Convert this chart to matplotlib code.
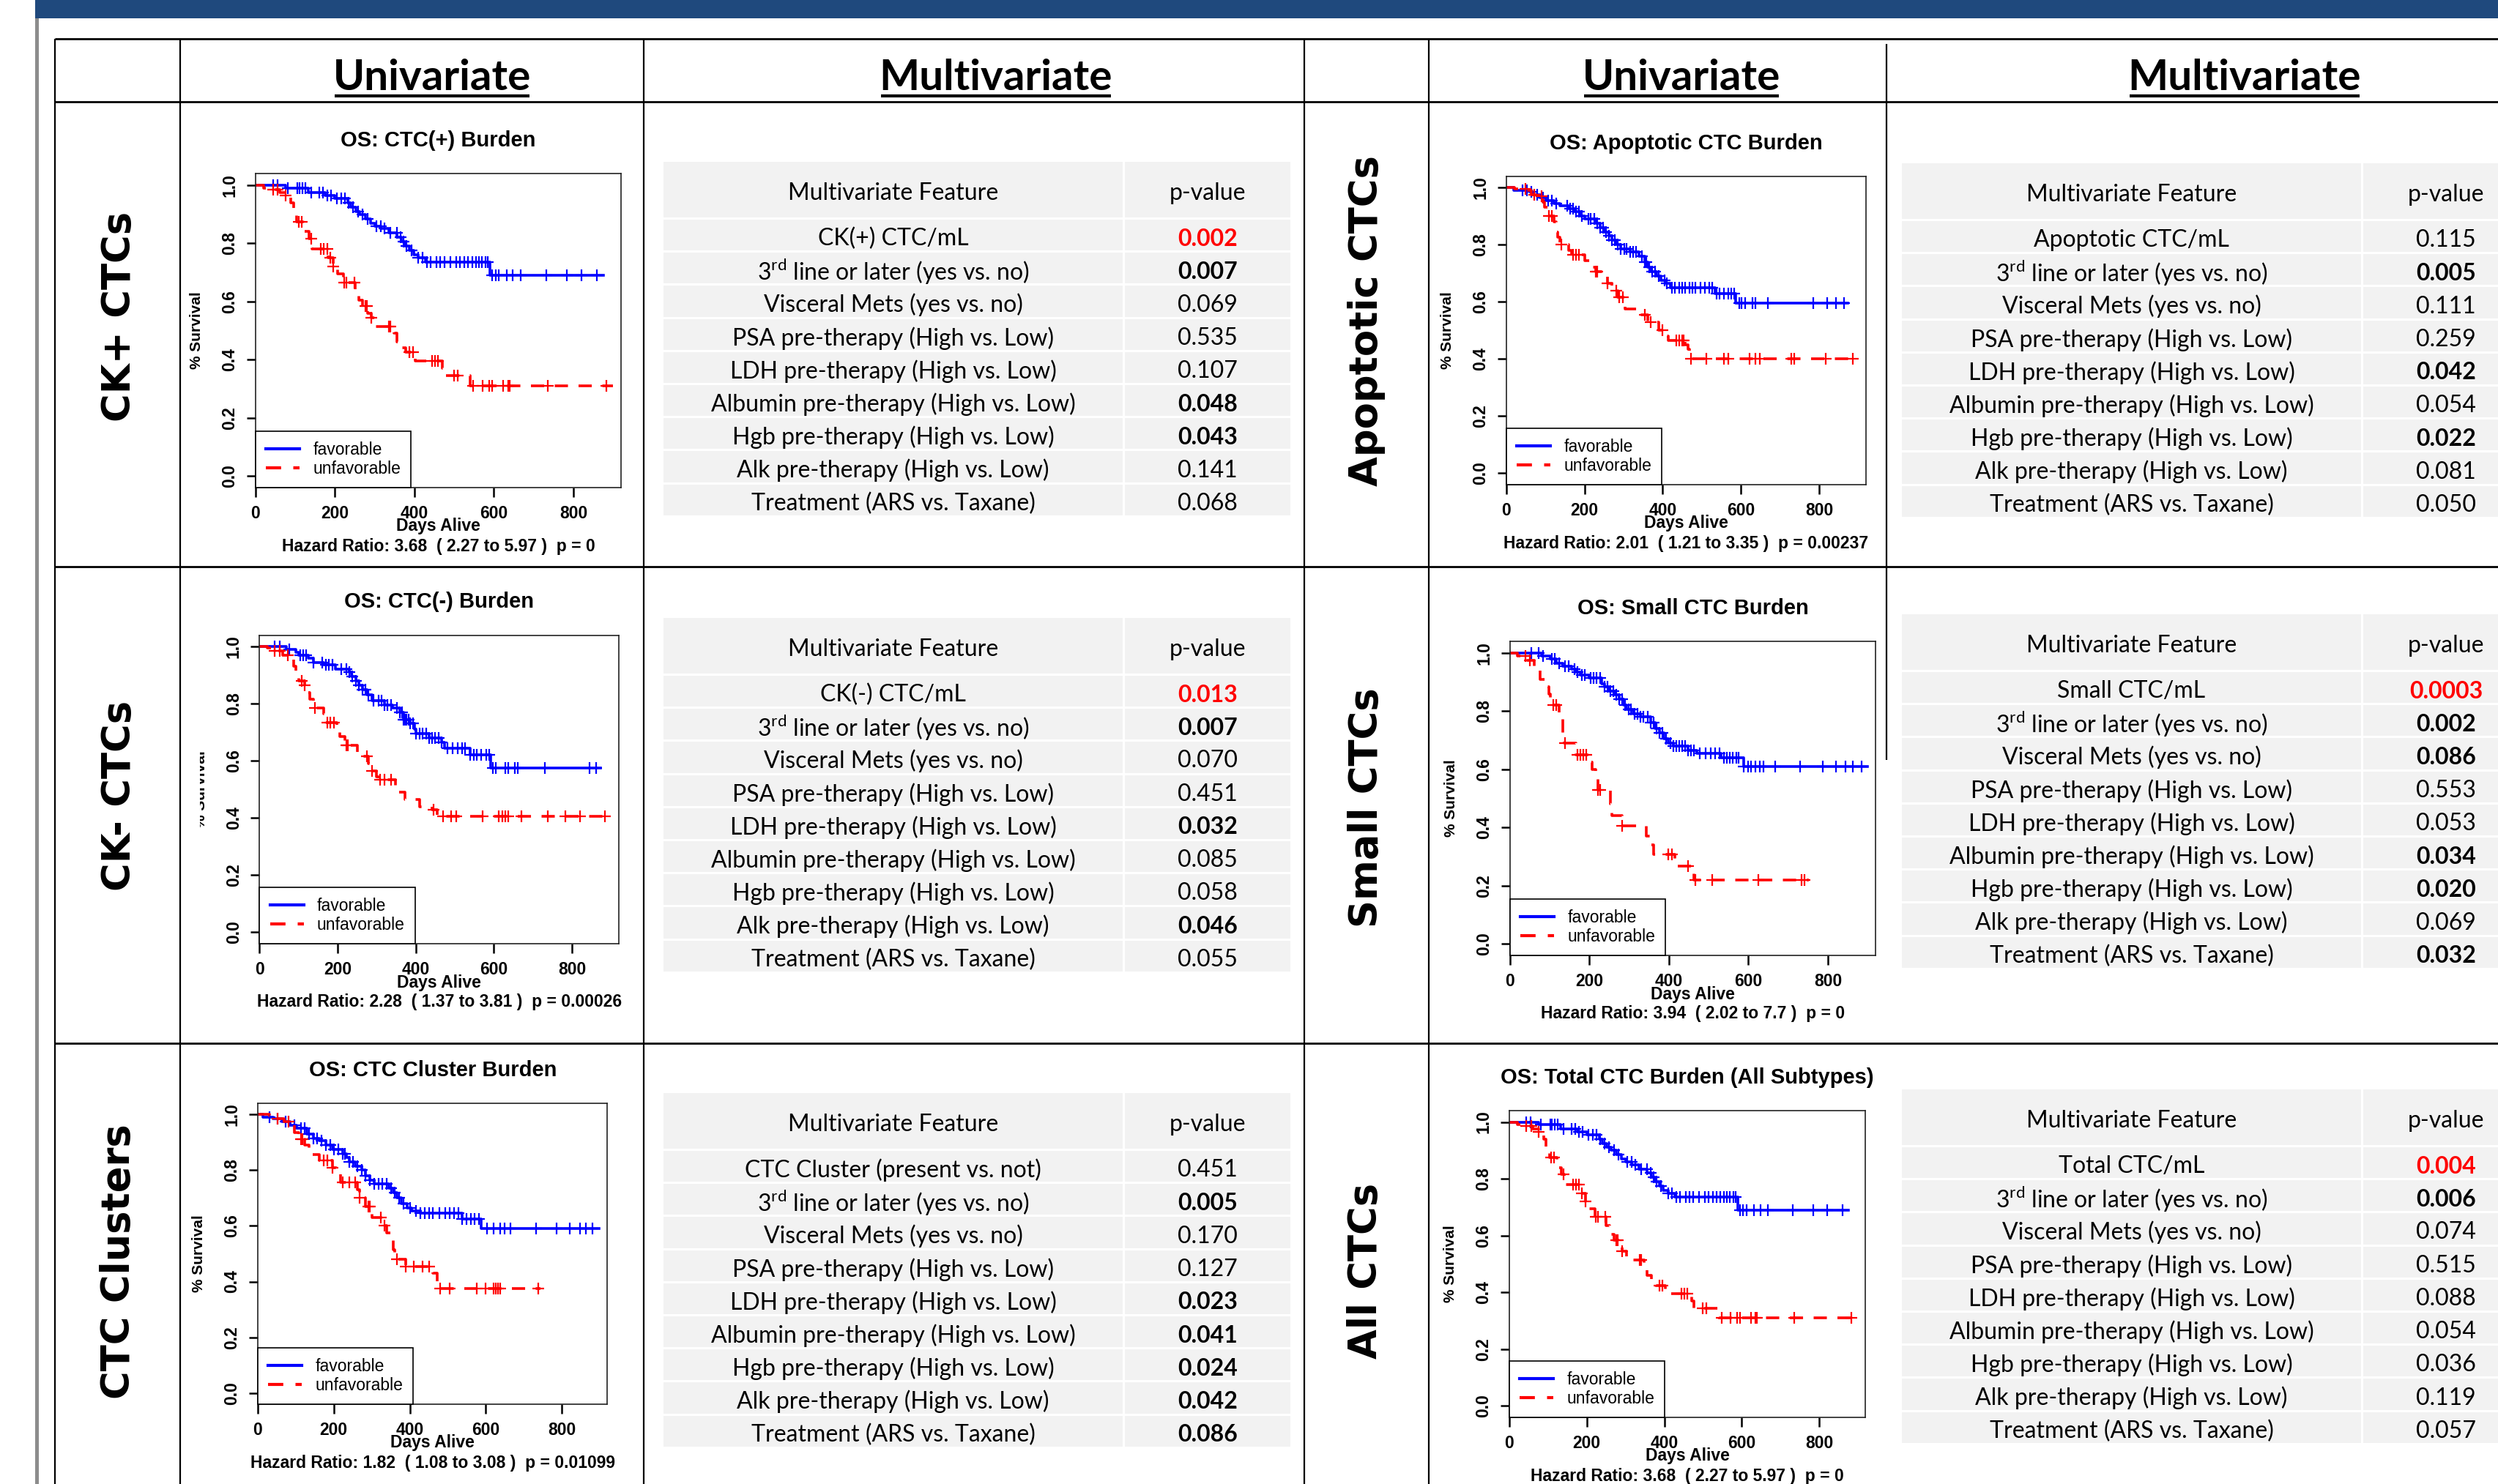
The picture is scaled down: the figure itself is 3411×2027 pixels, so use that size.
import numpy as np
import matplotlib
matplotlib.use('Agg')
import matplotlib.pyplot as plt
from matplotlib.patches import Rectangle
from matplotlib.lines import Line2D
from matplotlib.transforms import Bbox

plt.rcParams['font.family'] = 'Liberation Sans'
plt.rcParams['mathtext.fontset'] = 'custom'
plt.rcParams['mathtext.rm'] = 'Lato'
plt.rcParams['mathtext.bf'] = 'Lato:bold'

W, H = 3412, 2027

# ---------------- survival data (days, survival after step, last day, censor days) ----------------
# CK+ CTC burden (the total CTC panel shows the same curves)
ckpos_fav_t = [0, 76, 132, 175, 200, 232, 240, 252, 262, 276, 290, 300, 316, 335, 356, 366, 376, 388, 398, 410, 428, 590]
ckpos_fav_s = [1.0, 0.99, 0.975, 0.965, 0.955, 0.94, 0.925, 0.91, 0.90, 0.885, 0.87, 0.86, 0.85, 0.835, 0.82, 0.805,
               0.79, 0.775, 0.76, 0.75, 0.735, 0.69]
ckpos_fav_end = 876
ckpos_fav_cens = [44, 55, 82, 105, 110, 118, 125, 140, 160, 170, 180, 190, 205, 215, 225, 235, 245, 258, 270, 282, 305,
                  315, 325, 340, 355, 365, 372, 380, 392, 410, 420, 432, 440, 455, 465, 475, 490, 505, 515, 525, 535,
                  545, 555, 562, 570, 578, 585, 596, 604, 612, 632, 648, 668, 732, 784, 820, 860]
ckpos_unf_t = [0, 20, 44, 60, 76, 88, 95, 104, 122, 134, 142, 182, 196, 206, 222, 250, 260, 270, 282, 292, 302, 348,
               356, 366, 378, 402, 470, 476, 540]
ckpos_unf_s = [1.0, 0.99, 0.985, 0.975, 0.965, 0.94, 0.91, 0.875, 0.84, 0.815, 0.78, 0.75, 0.72, 0.695, 0.665, 0.635,
               0.605, 0.585, 0.56, 0.545, 0.515, 0.49, 0.46, 0.44, 0.425, 0.395, 0.37, 0.345, 0.31]
ckpos_unf_end = 900
ckpos_unf_cens = [44, 56, 76, 108, 116, 140, 164, 172, 180, 188, 196, 224, 228, 248, 276, 280, 292, 336, 340, 388, 396,
                  444, 452, 460, 500, 508, 548, 572, 588, 596, 624, 636, 640, 736, 884]

# CK- CTC burden
ckneg_fav_t = [0, 68, 92, 100, 125, 137, 165, 194, 230, 236, 247, 255, 263, 275, 287, 320, 340, 360, 369, 385, 397,
               401, 434, 466, 474, 540, 592]
ckneg_fav_s = [1.0, 0.99, 0.98, 0.97, 0.96, 0.945, 0.935, 0.92, 0.91, 0.895, 0.88, 0.865, 0.85, 0.83, 0.81, 0.795,
               0.785, 0.77, 0.745, 0.73, 0.71, 0.695, 0.68, 0.665, 0.645, 0.62, 0.575]
ckneg_fav_end = 873
ckneg_fav_cens = [39, 51, 76, 104, 112, 120, 137, 161, 169, 177, 186, 210, 222, 230, 238, 247, 255, 263, 271, 279, 291,
                  304, 312, 320, 328, 336, 352, 360, 365, 369, 373, 377, 381, 385, 393, 401, 409, 417, 426, 434, 442,
                  450, 458, 466, 482, 495, 507, 519, 527, 540, 548, 556, 568, 580, 588, 597, 605, 629, 637, 653, 662,
                  731, 845, 861]
ckneg_unf_t = [0, 19, 39, 59, 76, 88, 92, 100, 116, 125, 129, 137, 165, 169, 198, 206, 218, 251, 259, 279, 287, 300,
               304, 348, 352, 373, 409, 442, 454]
ckneg_unf_s = [1.0, 0.995, 0.985, 0.97, 0.955, 0.93, 0.91, 0.88, 0.865, 0.84, 0.815, 0.785, 0.765, 0.735, 0.71, 0.685,
               0.655, 0.63, 0.615, 0.59, 0.565, 0.545, 0.535, 0.51, 0.49, 0.465, 0.44, 0.43, 0.405]
ckneg_unf_end = 898
ckneg_unf_cens = [39, 51, 72, 108, 116, 141, 173, 181, 190, 222, 226, 275, 287, 308, 320, 336, 446, 470, 491, 503, 572,
                  613, 621, 629, 637, 670, 739, 784, 820, 885]

# CTC cluster burden
clus_fav_t = [0, 13, 41, 63, 85, 102, 129, 146, 162, 179, 196, 223, 234, 240, 256, 273, 284, 295, 306, 345, 356, 367,
              378, 394, 405, 428, 538, 588]
clus_fav_s = [1.0, 0.99, 0.985, 0.975, 0.96, 0.95, 0.93, 0.915, 0.905, 0.89, 0.875, 0.86, 0.845, 0.83, 0.815, 0.80,
              0.78, 0.765, 0.75, 0.735, 0.72, 0.70, 0.68, 0.665, 0.655, 0.645, 0.625, 0.59]
clus_fav_end = 897
clus_fav_cens = [30, 52, 74, 96, 113, 124, 135, 146, 157, 168, 179, 190, 201, 212, 223, 229, 240, 251, 262, 273, 284,
                 295, 306, 317, 328, 339, 350, 361, 372, 383, 400, 417, 428, 439, 450, 461, 477, 494, 505, 516, 527,
                 538, 549, 560, 571, 582, 604, 621, 638, 649, 665, 732, 787, 820, 848, 864, 881]
clus_unf_t = [0, 30, 52, 69, 85, 96, 107, 124, 135, 162, 196, 207, 218, 262, 267, 284, 301, 328, 339, 350, 356, 361,
              389, 461, 472]
clus_unf_s = [1.0, 0.995, 0.985, 0.975, 0.96, 0.935, 0.91, 0.89, 0.855, 0.835, 0.81, 0.785, 0.755, 0.73, 0.70, 0.67,
              0.63, 0.60, 0.575, 0.55, 0.515, 0.48, 0.455, 0.43, 0.375]
clus_unf_end = 743
clus_unf_cens = [52, 80, 113, 118, 173, 184, 196, 223, 240, 256, 267, 290, 295, 323, 334, 367, 389, 411, 433, 450, 480,
                 505, 577, 599, 621, 627, 632, 638, 737]

# apoptotic CTC burden
apop_fav_t = [0, 18, 60, 67, 86, 102, 121, 136, 159, 174, 190, 201, 228, 239, 251, 262, 270, 281, 293, 316, 339, 354,
              362, 369, 385, 396, 408, 419, 534, 587]
apop_fav_s = [1.0, 0.99, 0.985, 0.975, 0.965, 0.955, 0.945, 0.935, 0.925, 0.915, 0.90, 0.89, 0.875, 0.86, 0.845, 0.83,
              0.815, 0.80, 0.785, 0.775, 0.76, 0.74, 0.72, 0.705, 0.69, 0.675, 0.665, 0.65, 0.63, 0.595]
apop_fav_end = 874
apop_fav_cens = [41, 52, 63, 79, 94, 106, 117, 128, 155, 163, 171, 178, 186, 193, 209, 216, 224, 232, 239, 247, 255,
                 262, 270, 278, 285, 293, 301, 308, 316, 324, 331, 346, 354, 358, 366, 373, 381, 389, 404, 411, 423,
                 431, 442, 450, 457, 469, 476, 484, 496, 507, 519, 526, 538, 545, 557, 568, 576, 583, 595, 602, 610,
                 629, 637, 668, 786, 821, 844, 863]
apop_unf_t = [0, 21, 52, 63, 75, 94, 98, 109, 121, 128, 132, 136, 159, 167, 201, 216, 228, 247, 259, 270, 285, 304,
              339, 362, 389, 411, 415, 457, 465, 469]
apop_unf_s = [1.0, 0.995, 0.99, 0.975, 0.97, 0.95, 0.93, 0.90, 0.88, 0.845, 0.825, 0.80, 0.78, 0.765, 0.745, 0.72,
              0.705, 0.69, 0.665, 0.64, 0.615, 0.575, 0.555, 0.53, 0.50, 0.48, 0.465, 0.45, 0.435, 0.40]
apop_unf_end = 897
apop_unf_cens = [48, 71, 90, 109, 117, 140, 171, 178, 186, 228, 232, 259, 281, 289, 297, 354, 369, 400, 434, 442, 450,
                 454, 473, 511, 557, 568, 622, 637, 649, 729, 737, 817, 886]

# small CTC burden
small_fav_t = [0, 79, 102, 117, 132, 154, 166, 177, 200, 230, 237, 249, 264, 275, 286, 294, 309, 328, 354, 365, 377,
               388, 399, 411, 448, 471, 531, 588]
small_fav_s = [1.0, 0.99, 0.98, 0.965, 0.955, 0.945, 0.935, 0.925, 0.915, 0.895, 0.885, 0.87, 0.855, 0.84, 0.82, 0.805,
               0.79, 0.78, 0.76, 0.74, 0.725, 0.705, 0.69, 0.68, 0.665, 0.655, 0.64, 0.61]
small_fav_end = 900
small_fav_cens = [53, 72, 83, 105, 113, 124, 139, 147, 162, 169, 181, 188, 203, 211, 218, 226, 237, 245, 252, 260, 267,
                  275, 282, 290, 298, 305, 313, 320, 328, 335, 347, 354, 362, 369, 377, 384, 392, 403, 411, 418, 426,
                  433, 441, 448, 456, 463, 478, 493, 505, 516, 527, 539, 546, 554, 561, 569, 576, 588, 599, 606, 618,
                  629, 637, 667, 731, 787, 821, 844, 862, 885]
small_unf_t = [0, 19, 41, 60, 75, 94, 98, 102, 124, 132, 136, 166, 200, 206, 215, 222, 252, 256, 282, 343, 352, 362,
               414, 463]
small_unf_s = [1.0, 0.99, 0.975, 0.94, 0.91, 0.885, 0.86, 0.82, 0.78, 0.725, 0.69, 0.65, 0.625, 0.60, 0.57, 0.53,
               0.48, 0.44, 0.405, 0.37, 0.34, 0.307, 0.266, 0.22]
small_unf_end = 753
small_unf_cens = [38, 49, 109, 117, 139, 169, 177, 185, 192, 222, 226, 282, 399, 407, 448, 467, 509, 625, 734, 742]

km_titles = ['OS: CTC(+) Burden', 'OS: CTC(-) Burden', 'OS: CTC Cluster Burden',
             'OS: Apoptotic CTC Burden', 'OS: Small CTC Burden', 'OS: Total CTC Burden (All Subtypes)']
km_hazard = ['Hazard Ratio: 3.68  ( 2.27 to 5.97 )  p = 0',
             'Hazard Ratio: 2.28  ( 1.37 to 3.81 )  p = 0.00026',
             'Hazard Ratio: 1.82  ( 1.08 to 3.08 )  p = 0.01099',
             'Hazard Ratio: 2.01  ( 1.21 to 3.35 )  p = 0.00237',
             'Hazard Ratio: 3.94  ( 2.02 to 7.7 )  p = 0',
             'Hazard Ratio: 3.68  ( 2.27 to 5.97 )  p = 0']

# ---------------- multivariate tables ----------------
features_common = ['3$^{\\mathrm{rd}}$ line or later (yes vs. no)', 'Visceral Mets (yes vs. no)',
                   'PSA pre-therapy (High vs. Low)', 'LDH pre-therapy (High vs. Low)',
                   'Albumin pre-therapy (High vs. Low)', 'Hgb pre-therapy (High vs. Low)',
                   'Alk pre-therapy (High vs. Low)', 'Treatment (ARS vs. Taxane)']
first_features = ['CK(+) CTC/mL', 'CK(-) CTC/mL', 'CTC Cluster (present vs. not)',
                  'Apoptotic CTC/mL', 'Small CTC/mL', 'Total CTC/mL']
pvals = [
    ['0.002', '0.007', '0.069', '0.535', '0.107', '0.048', '0.043', '0.141', '0.068'],
    ['0.013', '0.007', '0.070', '0.451', '0.032', '0.085', '0.058', '0.046', '0.055'],
    ['0.451', '0.005', '0.170', '0.127', '0.023', '0.041', '0.024', '0.042', '0.086'],
    ['0.115', '0.005', '0.111', '0.259', '0.042', '0.054', '0.022', '0.081', '0.050'],
    ['0.0003', '0.002', '0.086', '0.553', '0.053', '0.034', '0.020', '0.069', '0.032'],
    ['0.004', '0.006', '0.074', '0.515', '0.088', '0.054', '0.036', '0.119', '0.057'],
]
# r = red bold, b = bold, n = normal
pstyles = [
    ['r', 'b', 'n', 'n', 'n', 'b', 'b', 'n', 'n'],
    ['r', 'b', 'n', 'n', 'b', 'n', 'n', 'b', 'n'],
    ['n', 'b', 'n', 'n', 'b', 'b', 'b', 'b', 'b'],
    ['n', 'b', 'n', 'n', 'b', 'n', 'b', 'n', 'n'],
    ['r', 'b', 'b', 'n', 'n', 'b', 'b', 'n', 'b'],
    ['r', 'b', 'n', 'n', 'n', 'n', 'n', 'n', 'n'],
]
row_labels = ['CK+ CTCs', 'CK- CTCs', 'CTC Clusters', 'Apoptotic CTCs', 'Small CTCs', 'All CTCs']

# ---------------- layout (pixels) ----------------
km_rects = [(349, 237, 848, 666), (354.5, 867.5, 845, 1289), (352, 1507, 829.5, 1918),
            (2057, 240.5, 2548, 662), (2062, 876, 2561, 1305), (2061, 1517, 2547.5, 1936)]
table_pos = [(906, 221), (906, 844), (906, 1493), (2597, 223), (2597, 839), (2597, 1488)]
label_pos = [(163, 432), (163, 1087), (162, 1723), (1866, 438), (1866, 1103), (1865, 1736)]

fig = plt.figure(figsize=(W / 100, H / 100), dpi=100)
bg = fig.add_axes([0, 0, 1, 1], zorder=0)
bg.set_xlim(0, W)
bg.set_ylim(H, 0)
bg.axis('off')

# banner and left bar
bg.add_patch(Rectangle((48, 0), W - 48, 25, facecolor='#1F497D', edgecolor='none'))
bg.add_patch(Rectangle((48, 25), 5, H - 25, facecolor='#8C8C8C', edgecolor='none'))

# grid lines
for y in [53, 139, 774, 1425]:
    bg.hlines(y, 75, W, color='black', lw=2.0)
for x in [75, 246, 879, 1781, 1951]:
    bg.vlines(x, 53, H, color='black', lw=1.6)
bg.vlines(2576, 60, 1038, color='black', lw=1.6)

# column headers
heads = []
for x, s in [(590, 'Univariate'), (1360, 'Multivariate'), (2296, 'Univariate'), (3065, 'Multivariate')]:
    heads.append(bg.text(x, 123, s, ha='center', va='baseline', fontsize=42, fontweight='bold', family='Lato'))

# row labels
for (x, y), s in zip(label_pos, row_labels):
    bg.text(x, y, s, rotation=90, ha='center', va='center', fontsize=38, fontweight='bold', family='DejaVu Sans')

# tables
col_w = [630, 229]
head_h, row_h, gap = 79, 45.2, 3
for k, (x0, top) in enumerate(table_pos):
    labels = [first_features[k]] + features_common
    y = top
    for i in range(10):
        h = head_h if i == 0 else row_h
        xs = x0
        for j, w in enumerate(col_w):
            bg.add_patch(Rectangle((xs, y), w - gap, h - gap, facecolor='#F2F2F2', edgecolor='none'))
            xs += w
        cy = y + (h - gap) / 2 + 5
        if i == 0:
            bg.text(x0 + (col_w[0] - gap) / 2, cy, 'Multivariate Feature', ha='center', va='center',
                    fontsize=23, family='Lato')
            bg.text(x0 + col_w[0] + (col_w[1] - gap) / 2, cy, 'p-value', ha='center', va='center',
                    fontsize=23, family='Lato')
        else:
            st = pstyles[k][i - 1]
            bg.text(x0 + (col_w[0] - gap) / 2, cy, labels[i - 1], ha='center', va='center',
                    fontsize=23, family='Lato')
            bg.text(x0 + col_w[0] + (col_w[1] - gap) / 2, cy, pvals[k][i - 1], ha='center', va='center',
                    fontsize=23, family='Lato', fontweight='bold' if st != 'n' else 'normal',
                    color='#FF0000' if st == 'r' else 'black')
        y += h

# Kaplan-Meier panels
panels = [
    ((ckpos_fav_t, ckpos_fav_s, ckpos_fav_end, ckpos_fav_cens), (ckpos_unf_t, ckpos_unf_s, ckpos_unf_end, ckpos_unf_cens)),
    ((ckneg_fav_t, ckneg_fav_s, ckneg_fav_end, ckneg_fav_cens), (ckneg_unf_t, ckneg_unf_s, ckneg_unf_end, ckneg_unf_cens)),
    ((clus_fav_t, clus_fav_s, clus_fav_end, clus_fav_cens), (clus_unf_t, clus_unf_s, clus_unf_end, clus_unf_cens)),
    ((apop_fav_t, apop_fav_s, apop_fav_end, apop_fav_cens), (apop_unf_t, apop_unf_s, apop_unf_end, apop_unf_cens)),
    ((small_fav_t, small_fav_s, small_fav_end, small_fav_cens), (small_unf_t, small_unf_s, small_unf_end, small_unf_cens)),
    ((ckpos_fav_t, ckpos_fav_s, ckpos_fav_end, ckpos_fav_cens), (ckpos_unf_t, ckpos_unf_s, ckpos_unf_end, ckpos_unf_cens)),
]
dash = (0, (5, 4))

for k, ((l, t, r, b), curves) in enumerate(zip(km_rects, panels)):
    ax = fig.add_axes([l / W, 1 - b / H, (r - l) / W, (b - t) / H], zorder=2)
    for (times, surv, end, cens), color, ls in zip(curves, ['#0000FF', '#FF0000'], ['-', dash]):
        times = np.asarray(times)
        surv = np.asarray(surv)
        ax.step(np.append(times, end), np.append(surv, surv[-1]), where='post', color=color, lw=2.6, ls=ls)
        cy = surv[np.searchsorted(times, cens, side='right') - 1]
        ax.plot(cens, cy, ls='none', marker='+', ms=12, mew=1.6, color=color)
    ax.set_xlim(0, 920)
    ax.set_ylim(-0.04, 1.04)
    ax.set_xticks([0, 200, 400, 600, 800])
    ax.set_yticks([0, 0.2, 0.4, 0.6, 0.8, 1.0])
    ax.set_yticklabels(['0.0', '0.2', '0.4', '0.6', '0.8', '1.0'])
    ax.tick_params(direction='out', length=9, width=1.8, labelsize=16.5, pad=8)
    for lab in ax.get_xticklabels():
        lab.set_fontweight('bold')
    for lab in ax.get_yticklabels():
        lab.set_fontweight('bold')
        lab.set_rotation(90)
        lab.set_va('center')
    for sp in ax.spines.values():
        sp.set_linewidth(1.2)
        sp.set_color('#222222')
    handles = [Line2D([], [], color='#0000FF', lw=3), Line2D([], [], color='#FF0000', lw=3, ls=dash)]
    leg = ax.legend(handles, ['favorable', 'unfavorable'], loc='lower left', bbox_to_anchor=(0, 0),
                    borderaxespad=0, fancybox=False, framealpha=1, edgecolor='black', fontsize=16.5,
                    borderpad=0.62, labelspacing=0.12, handlelength=2.0, handletextpad=0.8)
    leg.get_frame().set_linewidth(1.2)

    cx = (l + r) / 2
    bg.text(cx, t - 45, km_titles[k], ha='center', va='center', fontsize=21, fontweight='bold')
    bg.text(cx, b + 53, 'Days Alive', ha='center', va='center', fontsize=16.5, fontweight='bold')
    bg.text(cx, b + 80, km_hazard[k], ha='center', va='center', fontsize=16.5, fontweight='bold')
    yl = bg.text(l - 80, (t + b) / 2, '% Survival', rotation=90, ha='center', va='center',
                 fontsize=15, fontweight='bold')
    if k == 1:
        # the pasted CK- plot image is cropped through its y label
        yl.set_clip_box(Bbox.from_extents(273, 0, W, H))
        yl.set_clip_on(True)

# underline column headers
fig.canvas.draw()
for tx in heads:
    bb = tx.get_window_extent()
    bg.hlines(131, bb.x0 + 2, bb.x1 - 2, color='black', lw=3)

fig.savefig('out.png', dpi=100)
